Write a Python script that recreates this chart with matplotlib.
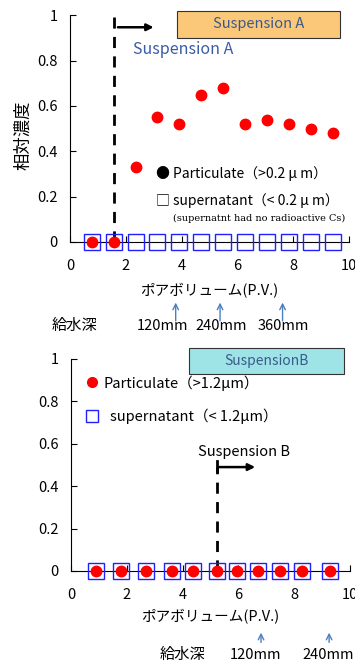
import matplotlib
matplotlib.use('Agg')
import matplotlib.pyplot as plt
from matplotlib.patches import Rectangle

plt.rcParams['font.family'] = ['Noto Sans CJK JP', 'DejaVu Sans']
plt.rcParams['font.size'] = 10

# Suspension A data
pv_a = [0.80, 1.58, 2.35, 3.13, 3.92, 4.70, 5.48, 6.28, 7.06, 7.86, 8.63, 9.41]
particulate_a = [0, 0, 0.33, 0.55, 0.52, 0.65, 0.68, 0.52, 0.54, 0.52, 0.50, 0.48]
supernatant_a = [0, 0, 0, 0, 0, 0, 0, 0, 0, 0, 0, 0]
depth_pv_a = [3.79, 5.38, 7.62]
depth_labels_a = ['120mm', '240mm', '360mm']

# Suspension B data
pv_b = [0.90, 1.79, 2.68, 3.62, 4.38, 5.24, 5.96, 6.69, 7.49, 8.29, 9.28]
particulate_b = [0, 0, 0, 0, 0, 0, 0, 0, 0, 0, 0]
supernatant_b = [0, 0, 0, 0, 0, 0, 0, 0, 0, 0, 0]
depth_pv_b = [6.81, 9.25]
depth_labels_b = ['120mm', '240mm']

fig = plt.figure(figsize=(3.55, 6.63), dpi=100)
ax1 = fig.add_axes([0.197, 0.635, 0.786, 0.342])
ax2 = fig.add_axes([0.200, 0.1388, 0.786, 0.3198])


def style_axes(ax):
    ax.set_xlim(0, 10)
    ax.set_ylim(0, 1)
    ax.spines['top'].set_visible(False)
    ax.spines['right'].set_visible(False)
    ax.set_xticks([0, 2, 4, 6, 8, 10])
    ax.set_xticklabels(['0', '2', '4', '6', '8', '10'])
    ax.set_yticks([0, 0.2, 0.4, 0.6, 0.8, 1])
    ax.set_yticklabels(['0', '0.2', '0.4', '0.6', '0.8', '1'])
    ax.tick_params(direction='in', length=4, labelsize=10.5, pad=9)
    ax.tick_params(axis='x', pad=12)
    ax.text(5, -0.215, 'ポアボリューム(P.V.)', transform=ax.get_xaxis_transform(),
            ha='center', va='center', fontsize=10.5)


# top chart
style_axes(ax1)
ax1.plot(pv_a, supernatant_a, 's', ms=11, mfc='none', mec='#1f1fff', mew=1.0, clip_on=False, zorder=3)
ax1.plot(pv_a, particulate_a, 'o', ms=7.5, color='#ff0000', clip_on=False, zorder=4)
ax1.plot([1.58, 1.58], [0, 1.0], '--', color='black', lw=2, dashes=(4, 3), zorder=2)
ax1.annotate('', xy=(3.1, 0.947), xytext=(1.62, 0.947),
             arrowprops=dict(arrowstyle='-|>', color='black', lw=1.8, mutation_scale=10))
ax1.add_patch(Rectangle((3.84, 0.90), 5.84, 0.12, facecolor='#fac878', edgecolor='#333333',
                        lw=0.8, clip_on=False))
ax1.text(6.76, 0.96, 'Suspension A', ha='center', va='center', color='#3b5a8c', fontsize=10.5)
ax1.text(2.26, 0.847, 'Suspension A', ha='left', va='center', color='#3a5ba8', fontsize=11.5)
ax1.text(3.1, 0.30, '● Particulate（>0.2 μ m）', ha='left', va='center', fontsize=10)
ax1.text(3.1, 0.182, '□ supernatant（< 0.2 μ m）', ha='left', va='center', fontsize=10)
ax1.text(3.7, 0.106, '(supernatnt had no radioactive Cs)', ha='left', va='center',
         fontsize=7, family='DejaVu Serif', clip_on=False)
ax1.set_ylabel('相対濃度', fontsize=12.5)
ax1.yaxis.set_label_coords(-0.136, 0.47)

trans1 = ax1.get_xaxis_transform()
for xv, lab in zip(depth_pv_a, depth_labels_a):
    ax1.annotate('', xy=(xv, -0.255), xytext=(xv, -0.36), xycoords=trans1, textcoords=trans1,
                 arrowprops=dict(arrowstyle='->', color='#4a7fc1', lw=1.0))
for xc, lab in zip([3.3, 5.41, 7.63], depth_labels_a):
    ax1.text(xc, -0.37, lab, transform=trans1, ha='center', va='center', fontsize=10.5)
ax1.text(0.18, -0.37, '給水深', transform=trans1, ha='center', va='center', fontsize=11)

# bottom chart
style_axes(ax2)
ax2.plot(pv_b, supernatant_b, 's', ms=11, mfc='none', mec='#1f1fff', mew=1.0, clip_on=False, zorder=3)
ax2.plot(pv_b, particulate_b, 'o', ms=7.5, color='#ff0000', clip_on=False, zorder=4)
ax2.plot([5.24, 5.24], [0, 0.49], '--', color='black', lw=2, dashes=(4, 3), zorder=2)
ax2.plot([5.24, 5.24], [0.47, 0.52], '-', color='black', lw=2, zorder=2)
ax2.annotate('', xy=(6.7, 0.49), xytext=(5.2, 0.49),
             arrowprops=dict(arrowstyle='-|>', color='black', lw=1.8, mutation_scale=10))
ax2.text(4.55, 0.56, 'Suspension B', ha='left', va='center', fontsize=10.5)
ax2.add_patch(Rectangle((4.23, 0.93), 5.55, 0.12, facecolor='#9ee4e6', edgecolor='#333333',
                        lw=0.8, clip_on=False))
ax2.text(7.0, 0.99, 'SuspensionB', ha='center', va='center', color='#3b5a8c', fontsize=10)
ax2.plot([0.75], [0.89], 'o', ms=7, color='#ff0000')
ax2.text(1.15, 0.885, 'Particulate（>1.2μm）', ha='left', va='center', fontsize=10.5)
ax2.plot([0.75], [0.73], 's', ms=9, mfc='none', mec='#1f1fff', mew=1.0)
ax2.text(1.4, 0.73, 'supernatant（< 1.2μm）', ha='left', va='center', fontsize=10.5)

trans2 = ax2.get_xaxis_transform()
for xv in depth_pv_b:
    ax2.annotate('', xy=(xv, -0.278), xytext=(xv, -0.35), xycoords=trans2, textcoords=trans2,
                 arrowprops=dict(arrowstyle='->', color='#4a7fc1', lw=1.0))
for xc, lab in zip([6.63, 9.21], depth_labels_b):
    ax2.text(xc, -0.396, lab, transform=trans2, ha='center', va='center', fontsize=10.5)
ax2.text(3.98, -0.396, '給水深', transform=trans2, ha='center', va='center', fontsize=11)

fig.savefig('out.png', dpi=100)
